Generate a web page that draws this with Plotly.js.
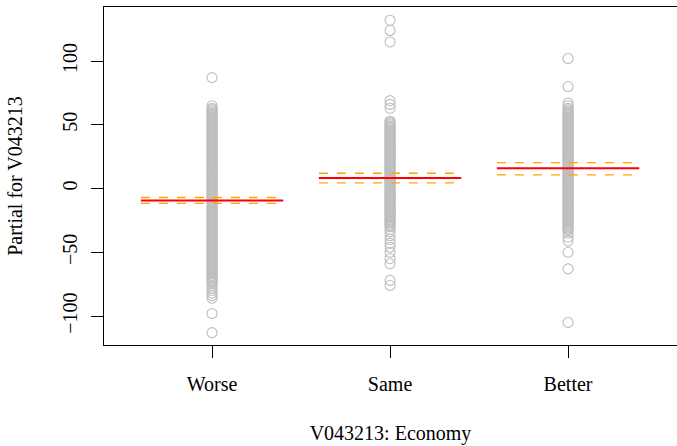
<!DOCTYPE html>
<html>
<head>
<meta charset="utf-8">
<script src="https://cdn.plot.ly/plotly-3.0.1.min.js"></script>
<style>html,body{margin:0;padding:0;background:#fff}#chart{width:677px;height:446px}</style>
</head>
<body>
<div id="chart"></div>
<script>
// Categories (factor levels)
var categories = ["Worse", "Same", "Better"];

// Fitted term values and +/- 2 SE bands
var fitValues = [-9.4, 8.3, 15.9];
var upperValues = [-7.0, 12.0, 20.3];
var lowerValues = [-11.6, 4.5, 10.8];

// Partial residuals
var worseResiduals = [87, 65, 63, 62, 61, 60, 59, 58, 57, 56, 55, 54, 53, 52, 51, 50, 49, 48, 47, 46, 45, 44, 43, 42, 41, 40, 39, 38, 37, 36, 35, 34, 33, 32, 31, 30, 29, 28, 27, 26, 25, 24, 23, 22, 21, 20, 19, 18, 17, 16, 15, 14, 13, 12, 11, 10, 9, 8, 7, 6, 5, 4, 3, 2, 1, 0, -1, -2, -3, -4, -5, -6, -7, -8, -9, -10, -11, -12, -13, -14, -15, -16, -17, -18, -19, -20, -21, -22, -23, -24, -25, -26, -27, -28, -29, -30, -31, -32, -33, -34, -35, -36, -37, -38, -39, -40, -41, -42, -43, -44, -45, -46, -47, -48, -49, -50, -51, -52, -53, -54, -55, -56, -57, -58, -59, -60, -61, -62, -63, -64, -65, -66, -67, -68, -69, -70, -71, -72, -73, -74, -76, -78, -80, -82, -84, -86, -98, -113];
var sameResiduals = [132, 124, 115, 69, 66, 63, 53, 52, 51, 50, 49, 48, 47, 46, 45, 44, 43, 42, 41, 40, 39, 38, 37, 36, 35, 34, 33, 32, 31, 30, 29, 28, 27, 26, 25, 24, 23, 22, 21, 20, 19, 18, 17, 16, 15, 14, 13, 12, 11, 10, 9, 8, 7, 6, 5, 4, 3, 2, 1, 0, -1, -2, -3, -4, -5, -6, -7, -8, -9, -10, -11, -12, -13, -14, -15, -16, -17, -18, -19, -20, -21, -22, -23, -24, -25, -26, -27, -28, -29, -30, -32, -34, -37, -40, -43, -46, -50, -55, -59, -72, -76];
var betterResiduals = [102, 80, 67, 65, 63, 62, 61, 60, 59, 58, 57, 56, 55, 54, 53, 52, 51, 50, 49, 48, 47, 46, 45, 44, 43, 42, 41, 40, 39, 38, 37, 36, 35, 34, 33, 32, 31, 30, 29, 28, 27, 26, 25, 24, 23, 22, 21, 20, 19, 18, 17, 16, 15, 14, 13, 12, 11, 10, 9, 8, 7, 6, 5, 4, 3, 2, 1, 0, -1, -2, -3, -4, -5, -6, -7, -8, -9, -10, -11, -12, -13, -14, -15, -16, -17, -18, -19, -20, -21, -22, -23, -24, -25, -26, -27, -28, -29, -30, -31, -32, -33, -35, -38, -41, -50, -63, -105];

var residualSets = [worseResiduals, sameResiduals, betterResiduals];

var traces = [];
var px = [], py = [];
residualSets.forEach(function (vals, i) {
  vals.forEach(function (v) { px.push(i + 1); py.push(v); });
});
traces.push({
  type: "scatter", mode: "markers", x: px, y: py,
  marker: { symbol: "circle-open", size: 10, color: "#bebebe", line: { width: 1.1, color: "#bebebe" } },
  hoverinfo: "skip", showlegend: false
});

function segs(vals) {
  var xs = [], ys = [];
  vals.forEach(function (v, i) {
    xs.push(i + 1 - 0.4, i + 1 + 0.4, null);
    ys.push(v, v, null);
  });
  return { x: xs, y: ys };
}
var up = segs(upperValues), lo = segs(lowerValues), fit = segs(fitValues);
traces.push({ type: "scatter", mode: "lines", x: up.x, y: up.y, line: { color: "#ffa500", width: 1.3, dash: "dash" }, showlegend: false, hoverinfo: "skip" });
traces.push({ type: "scatter", mode: "lines", x: lo.x, y: lo.y, line: { color: "#ffa500", width: 1.3, dash: "dash" }, showlegend: false, hoverinfo: "skip" });
traces.push({ type: "scatter", mode: "lines", x: fit.x, y: fit.y, line: { color: "#ff0000", width: 2 }, showlegend: false, hoverinfo: "skip" });

function mkFont() { return { family: "Liberation Serif", size: 20, color: "#000000" }; }

var layout = {
  width: 677, height: 446,
  margin: { l: 104, r: 0, t: 7, b: 101, pad: 0 },
  paper_bgcolor: "#fff", plot_bgcolor: "#fff",
  font: mkFont(),
  showlegend: false,
  xaxis: {
    range: [0.393, 3.612],
    tickvals: [1, 2, 3], ticktext: categories,
    showgrid: false, zeroline: false,
    showline: true, linecolor: "#000", linewidth: 1.3, mirror: true,
    ticks: "outside", ticklen: 12, tickwidth: 1, tickcolor: "#000",
    ticklabelstandoff: 9,
    tickfont: mkFont(),
    title: { text: "V043213: Economy", font: mkFont(), standoff: 31 }
  },
  yaxis: {
    range: [-122.7, 142.4],
    tickvals: [-100, -50, 0, 50, 100],
    ticktext: ["\u2212100", "\u221250", "0", "50", "100"],
    showgrid: false, zeroline: false,
    showline: true, linecolor: "#000", linewidth: 1.3,
    ticks: "outside", ticklen: 12, tickwidth: 1, tickcolor: "#000",
    tickangle: -90,
    ticklabelstandoff: 6,
    tickfont: mkFont(),
    title: { text: "Partial for V043213", font: mkFont(), standoff: 30 }
  }
};

Plotly.newPlot("chart", traces, layout, { staticPlot: true, displayModeBar: false });
</script>
</body>
</html>
